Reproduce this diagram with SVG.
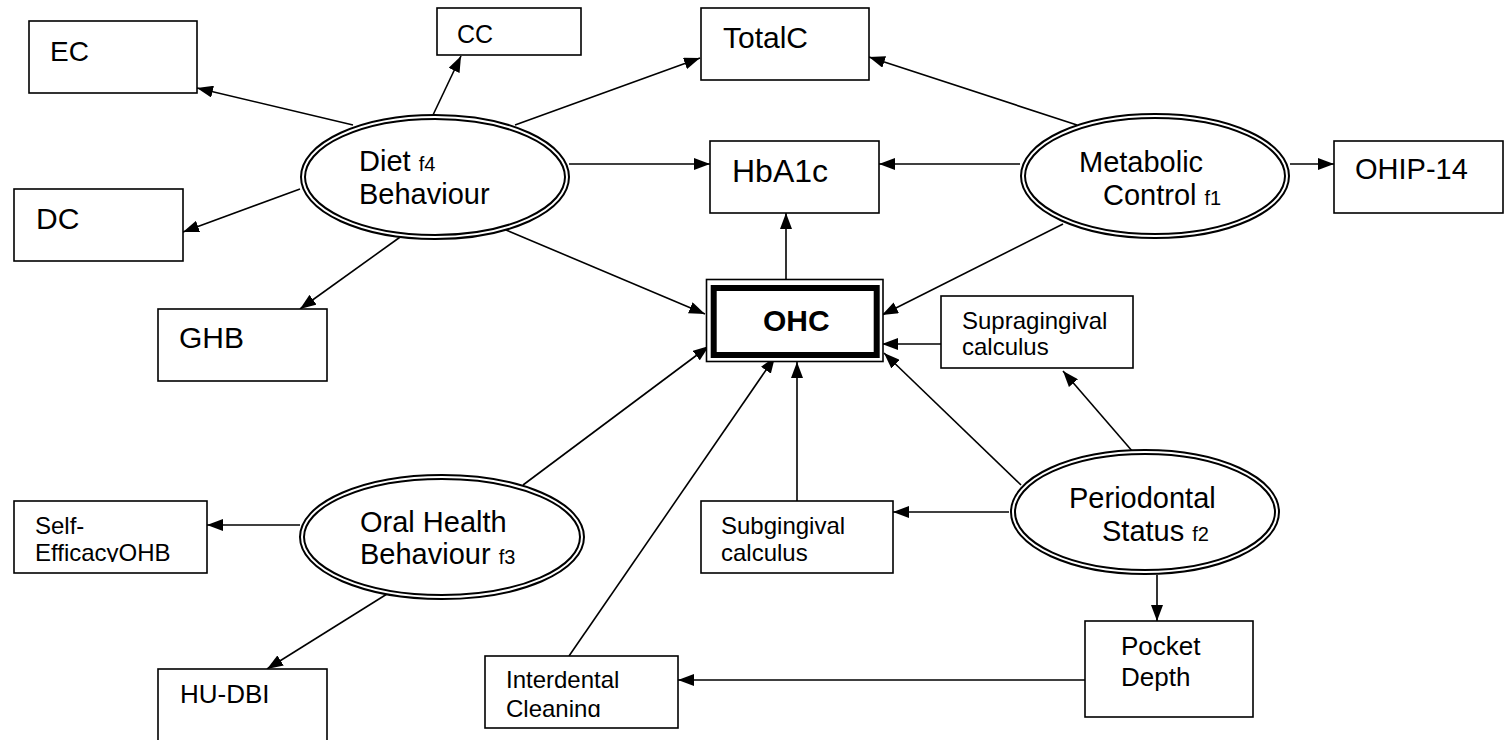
<svg xmlns="http://www.w3.org/2000/svg" width="1505" height="740" viewBox="0 0 1505 740">
<style>
text{font-family:"Liberation Sans",Arial,sans-serif;fill:#000}
.box{fill:#fff;stroke:#000;stroke-width:1.6}
.l{font-size:30px}
.s{font-size:24px}
.e{font-size:29px}
.f{font-size:20px}
.ell-o{fill:#fff;stroke:#000;stroke-width:6}
.ell-i{fill:none;stroke:#fff;stroke-width:2}
.c line{stroke:#000;stroke-width:1.6;marker-end:url(#ah)}
</style>
<defs>
<marker id="ah" markerUnits="userSpaceOnUse" markerWidth="16" markerHeight="12" refX="16" refY="6" orient="auto">
<path d="M0,0 L16,6 L0,12 z" fill="#000"/>
</marker>
<clipPath id="clipSE"><rect x="14" y="501" width="193" height="61"/></clipPath>
<clipPath id="clipIC"><rect x="485" y="656" width="193" height="61"/></clipPath>
</defs>
<rect width="1505" height="740" fill="#fff"/>

<g class="c" id="connectors">
<line x1="353" y1="125" x2="197" y2="88"/>
<line x1="433" y1="115" x2="461" y2="56"/>
<line x1="515" y1="125" x2="700" y2="58"/>
<line x1="569" y1="164" x2="710" y2="164"/>
<line x1="300" y1="189" x2="183" y2="232"/>
<line x1="403" y1="235" x2="300" y2="309"/>
<line x1="506" y1="230" x2="705" y2="314"/>
<line x1="1077" y1="125" x2="869" y2="57"/>
<line x1="1020" y1="164" x2="879" y2="164"/>
<line x1="1290" y1="164" x2="1334" y2="164"/>
<line x1="1063" y1="224" x2="882" y2="315"/>
<line x1="786" y1="279" x2="786" y2="213"/>
<line x1="941" y1="344" x2="882" y2="344"/>
<line x1="1133" y1="452" x2="1063" y2="371"/>
<line x1="1021" y1="485" x2="884" y2="353"/>
<line x1="1009" y1="512" x2="893" y2="512"/>
<line x1="1157" y1="575" x2="1157" y2="621"/>
<line x1="797" y1="501" x2="797" y2="362"/>
<line x1="1085" y1="680" x2="678" y2="680"/>
<line x1="569" y1="656" x2="775" y2="357"/>
<line x1="523" y1="485" x2="709" y2="346"/>
<line x1="300" y1="525" x2="207" y2="525"/>
<line x1="387" y1="594" x2="267" y2="669"/>
</g>

<g id="EC"><rect class="box" x="29" y="21" width="168" height="72"/><text class="l" x="50" y="61" style="font-size:28px">EC</text></g>
<g id="CC"><rect class="box" x="437" y="8" width="144" height="47"/><text x="457" y="43" style="font-size:25px">CC</text></g>
<g id="TotalC"><rect class="box" x="701" y="8" width="168" height="72"/><text class="l" x="723" y="48">TotalC</text></g>
<g id="HbA1c"><rect class="box" x="710" y="141" width="169" height="72"/><text x="732" y="182" style="font-size:32px">HbA1c</text></g>
<g id="OHIP14"><rect class="box" x="1334" y="141" width="169" height="72"/><text x="1355" y="179" style="font-size:29px">OHIP-14</text></g>
<g id="DC"><rect class="box" x="14" y="189" width="169" height="72"/><text class="l" x="36" y="229">DC</text></g>
<g id="GHB"><rect class="box" x="158" y="309" width="169" height="72"/><text class="l" x="179" y="348">GHB</text></g>

<g id="OHC">
<rect x="706.5" y="279.5" width="176.5" height="82" fill="#fff" stroke="#000" stroke-width="1.6"/>
<rect x="713.7" y="288" width="163" height="67" fill="#fff" stroke="#000" stroke-width="6"/>
<text x="763" y="331" style="font-size:30px;font-weight:bold">OHC</text>
</g>

<g id="Supragingival"><rect class="box" x="941" y="296" width="192" height="72"/><text class="s" x="962" y="329">Supragingival</text><text class="s" x="962" y="355">calculus</text></g>
<g id="SelfEfficacy"><rect class="box" x="14" y="501" width="193" height="72"/><g clip-path="url(#clipSE)"><text class="s" x="35" y="534">Self-</text><text class="s" x="35" y="561">EfficacyOHB</text></g></g>
<g id="Subgingival"><rect class="box" x="701" y="501" width="192" height="72"/><text class="s" x="721" y="534">Subgingival</text><text class="s" x="721" y="561">calculus</text></g>
<g id="Interdental"><rect class="box" x="485" y="656" width="193" height="72"/><g clip-path="url(#clipIC)"><text class="s" x="506" y="688">Interdental</text><text class="s" x="506" y="717">Cleaning</text></g></g>
<g id="PocketDepth"><rect class="box" x="1085" y="621" width="168" height="96"/><text x="1121" y="655" style="font-size:26px">Pocket</text><text x="1121" y="686" style="font-size:26px">Depth</text></g>
<g id="HUDBI"><rect class="box" x="158" y="669" width="169" height="80"/><text x="180" y="703" style="font-size:26px">HU-DBI</text></g>

<g id="Diet">
<ellipse class="ell-o" cx="435" cy="177" rx="132" ry="60"/>
<ellipse class="ell-i" cx="435" cy="177" rx="132" ry="60"/>
<text class="e" x="359" y="171">Diet <tspan class="f">f4</tspan></text>
<text class="e" x="359" y="204">Behaviour</text>
</g>
<g id="Metabolic">
<ellipse class="ell-o" cx="1155" cy="176" rx="132" ry="60"/>
<ellipse class="ell-i" cx="1155" cy="176" rx="132" ry="60"/>
<text class="e" x="1079" y="172">Metabolic</text>
<text class="e" x="1103" y="205">Control <tspan class="f">f1</tspan></text>
</g>
<g id="OralHealth">
<ellipse class="ell-o" cx="442" cy="537" rx="140" ry="60"/>
<ellipse class="ell-i" cx="442" cy="537" rx="140" ry="60"/>
<text class="e" x="360" y="532">Oral Health</text>
<text class="e" x="360" y="564">Behaviour <tspan class="f">f3</tspan></text>
</g>
<g id="Periodontal">
<ellipse class="ell-o" cx="1145" cy="512" rx="132" ry="60"/>
<ellipse class="ell-i" cx="1145" cy="512" rx="132" ry="60"/>
<text class="e" x="1069" y="508">Periodontal</text>
<text class="e" x="1102" y="541">Status <tspan class="f">f2</tspan></text>
</g>
</svg>
